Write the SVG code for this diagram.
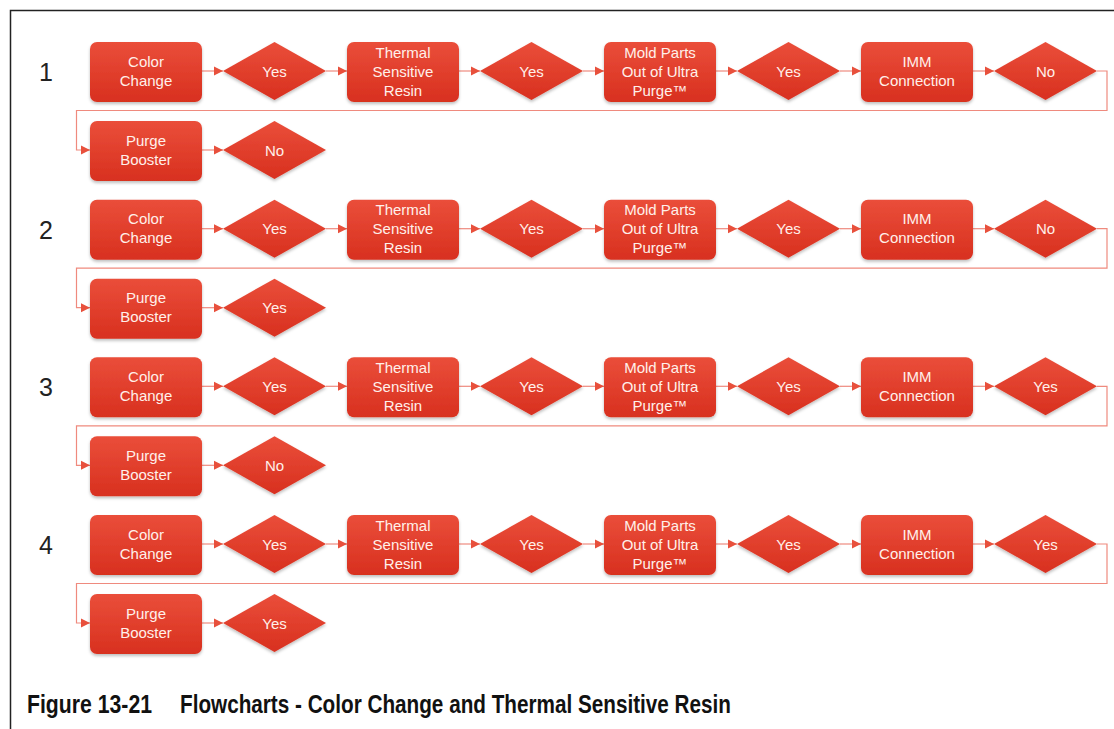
<svg xmlns="http://www.w3.org/2000/svg" width="1114" height="729" viewBox="0 0 1114 729">
<style>
.box{fill:url(#g);}
.dia{fill:url(#g);}
.t{font-family:"Liberation Sans",Arial,sans-serif;font-size:15px;fill:#fff0ea;text-anchor:middle;}
.n{font-family:"Liberation Sans",Arial,sans-serif;font-size:25px;fill:#222;text-anchor:middle;}
.c{fill:none;stroke:#ef8a7e;stroke-width:1.2;}
.cap{font-family:"Liberation Sans Narrow","Liberation Sans",Arial,sans-serif;font-weight:bold;font-size:25px;fill:#111;}
</style>
<defs>
<linearGradient id="g" x1="0" y1="0" x2="0" y2="1">
<stop offset="0" stop-color="#ea4e3a"/>
<stop offset="1" stop-color="#d8301f"/>
</linearGradient>
<filter id="sh" x="-10%" y="-10%" width="125%" height="130%">
<feDropShadow dx="0" dy="2" stdDeviation="1.5" flood-color="#000" flood-opacity="0.25"/>
</filter>
<marker id="ah" markerUnits="userSpaceOnUse" markerWidth="10" markerHeight="10" refX="9" refY="5" orient="auto">
<path d="M0,0.5 L9,5 L0,9.5 Z" fill="#e8503c"/>
</marker>
<g id="row">
<g filter="url(#sh)">
<rect class="box" x="90" y="42" width="112" height="60" rx="7"/>
<polygon class="dia" points="223,71 274.5,42 326,71 274.5,100"/>
<rect class="box" x="347" y="42" width="112" height="60" rx="7"/>
<polygon class="dia" points="480,71 531.5,42 583,71 531.5,100"/>
<rect class="box" x="604" y="42" width="112" height="60" rx="7"/>
<polygon class="dia" points="737,71 788.5,42 840,71 788.5,100"/>
<rect class="box" x="861" y="42" width="112" height="60" rx="7"/>
<polygon class="dia" points="994,71 1045.5,42 1097,71 1045.5,100"/>
<rect class="box" x="90" y="121" width="112" height="60" rx="7"/>
<polygon class="dia" points="223,150 274.5,121 326,150 274.5,179"/>
</g>
</g>
</defs>
<rect width="1114" height="729" fill="#fff"/>
<path d="M10.5,729 L10.5,10.5 L1114,10.5" fill="none" stroke="#222" stroke-width="1.5"/>

<g id="connectors">
<g id="conn-row1">
<line class="c" x1="202" y1="71" x2="223" y2="71" marker-end="url(#ah)"/>
<line class="c" x1="326" y1="71" x2="347" y2="71" marker-end="url(#ah)"/>
<line class="c" x1="459" y1="71" x2="480" y2="71" marker-end="url(#ah)"/>
<line class="c" x1="583" y1="71" x2="604" y2="71" marker-end="url(#ah)"/>
<line class="c" x1="716" y1="71" x2="737" y2="71" marker-end="url(#ah)"/>
<line class="c" x1="840" y1="71" x2="861" y2="71" marker-end="url(#ah)"/>
<line class="c" x1="973" y1="71" x2="994" y2="71" marker-end="url(#ah)"/>
<path class="c" d="M1097,71 H1107 V110.5 H76.5 V150 H90" marker-end="url(#ah)"/>
<line class="c" x1="202" y1="150" x2="223" y2="150" marker-end="url(#ah)"/>
</g>
<g id="conn-row2" transform="translate(0,157.7)">
<line class="c" x1="202" y1="71" x2="223" y2="71" marker-end="url(#ah)"/>
<line class="c" x1="326" y1="71" x2="347" y2="71" marker-end="url(#ah)"/>
<line class="c" x1="459" y1="71" x2="480" y2="71" marker-end="url(#ah)"/>
<line class="c" x1="583" y1="71" x2="604" y2="71" marker-end="url(#ah)"/>
<line class="c" x1="716" y1="71" x2="737" y2="71" marker-end="url(#ah)"/>
<line class="c" x1="840" y1="71" x2="861" y2="71" marker-end="url(#ah)"/>
<line class="c" x1="973" y1="71" x2="994" y2="71" marker-end="url(#ah)"/>
<path class="c" d="M1097,71 H1107 V110.5 H76.5 V150 H90" marker-end="url(#ah)"/>
<line class="c" x1="202" y1="150" x2="223" y2="150" marker-end="url(#ah)"/>
</g>
<g id="conn-row3" transform="translate(0,315.3)">
<line class="c" x1="202" y1="71" x2="223" y2="71" marker-end="url(#ah)"/>
<line class="c" x1="326" y1="71" x2="347" y2="71" marker-end="url(#ah)"/>
<line class="c" x1="459" y1="71" x2="480" y2="71" marker-end="url(#ah)"/>
<line class="c" x1="583" y1="71" x2="604" y2="71" marker-end="url(#ah)"/>
<line class="c" x1="716" y1="71" x2="737" y2="71" marker-end="url(#ah)"/>
<line class="c" x1="840" y1="71" x2="861" y2="71" marker-end="url(#ah)"/>
<line class="c" x1="973" y1="71" x2="994" y2="71" marker-end="url(#ah)"/>
<path class="c" d="M1097,71 H1107 V110.5 H76.5 V150 H90" marker-end="url(#ah)"/>
<line class="c" x1="202" y1="150" x2="223" y2="150" marker-end="url(#ah)"/>
</g>
<g id="conn-row4" transform="translate(0,473)">
<line class="c" x1="202" y1="71" x2="223" y2="71" marker-end="url(#ah)"/>
<line class="c" x1="326" y1="71" x2="347" y2="71" marker-end="url(#ah)"/>
<line class="c" x1="459" y1="71" x2="480" y2="71" marker-end="url(#ah)"/>
<line class="c" x1="583" y1="71" x2="604" y2="71" marker-end="url(#ah)"/>
<line class="c" x1="716" y1="71" x2="737" y2="71" marker-end="url(#ah)"/>
<line class="c" x1="840" y1="71" x2="861" y2="71" marker-end="url(#ah)"/>
<line class="c" x1="973" y1="71" x2="994" y2="71" marker-end="url(#ah)"/>
<path class="c" d="M1097,71 H1107 V110.5 H76.5 V150 H90" marker-end="url(#ah)"/>
<line class="c" x1="202" y1="150" x2="223" y2="150" marker-end="url(#ah)"/>
</g>
</g>

<g id="flow1">
<use href="#row"/>
<text class="n" x="46" y="81">1</text>
<g id="f1-color"><text class="t" x="146" y="66.5">Color</text><text class="t" x="146" y="85.5">Change</text></g>
<g id="f1-d1"><text class="t" x="274.5" y="76.5">Yes</text></g>
<g id="f1-thermal"><text class="t" x="403" y="57.5">Thermal</text><text class="t" x="403" y="76.5">Sensitive</text><text class="t" x="403" y="95.5">Resin</text></g>
<g id="f1-d2"><text class="t" x="531.5" y="76.5">Yes</text></g>
<g id="f1-mold"><text class="t" x="660" y="57.5">Mold Parts</text><text class="t" x="660" y="76.5">Out of Ultra</text><text class="t" x="660" y="95.5">Purge™</text></g>
<g id="f1-d3"><text class="t" x="788.5" y="76.5">Yes</text></g>
<g id="f1-imm"><text class="t" x="917" y="66.5">IMM</text><text class="t" x="917" y="85.5">Connection</text></g>
<g id="f1-d4"><text class="t" x="1045.5" y="76.5">No</text></g>
<g id="f1-purge"><text class="t" x="146" y="145.5">Purge</text><text class="t" x="146" y="164.5">Booster</text></g>
<g id="f1-d5"><text class="t" x="274.5" y="155.5">No</text></g>
</g>

<g id="flow2" transform="translate(0,157.7)">
<use href="#row"/>
<text class="n" x="46" y="81">2</text>
<g id="f2-color"><text class="t" x="146" y="66.5">Color</text><text class="t" x="146" y="85.5">Change</text></g>
<g id="f2-d1"><text class="t" x="274.5" y="76.5">Yes</text></g>
<g id="f2-thermal"><text class="t" x="403" y="57.5">Thermal</text><text class="t" x="403" y="76.5">Sensitive</text><text class="t" x="403" y="95.5">Resin</text></g>
<g id="f2-d2"><text class="t" x="531.5" y="76.5">Yes</text></g>
<g id="f2-mold"><text class="t" x="660" y="57.5">Mold Parts</text><text class="t" x="660" y="76.5">Out of Ultra</text><text class="t" x="660" y="95.5">Purge™</text></g>
<g id="f2-d3"><text class="t" x="788.5" y="76.5">Yes</text></g>
<g id="f2-imm"><text class="t" x="917" y="66.5">IMM</text><text class="t" x="917" y="85.5">Connection</text></g>
<g id="f2-d4"><text class="t" x="1045.5" y="76.5">No</text></g>
<g id="f2-purge"><text class="t" x="146" y="145.5">Purge</text><text class="t" x="146" y="164.5">Booster</text></g>
<g id="f2-d5"><text class="t" x="274.5" y="155.5">Yes</text></g>
</g>

<g id="flow3" transform="translate(0,315.3)">
<use href="#row"/>
<text class="n" x="46" y="81">3</text>
<g id="f3-color"><text class="t" x="146" y="66.5">Color</text><text class="t" x="146" y="85.5">Change</text></g>
<g id="f3-d1"><text class="t" x="274.5" y="76.5">Yes</text></g>
<g id="f3-thermal"><text class="t" x="403" y="57.5">Thermal</text><text class="t" x="403" y="76.5">Sensitive</text><text class="t" x="403" y="95.5">Resin</text></g>
<g id="f3-d2"><text class="t" x="531.5" y="76.5">Yes</text></g>
<g id="f3-mold"><text class="t" x="660" y="57.5">Mold Parts</text><text class="t" x="660" y="76.5">Out of Ultra</text><text class="t" x="660" y="95.5">Purge™</text></g>
<g id="f3-d3"><text class="t" x="788.5" y="76.5">Yes</text></g>
<g id="f3-imm"><text class="t" x="917" y="66.5">IMM</text><text class="t" x="917" y="85.5">Connection</text></g>
<g id="f3-d4"><text class="t" x="1045.5" y="76.5">Yes</text></g>
<g id="f3-purge"><text class="t" x="146" y="145.5">Purge</text><text class="t" x="146" y="164.5">Booster</text></g>
<g id="f3-d5"><text class="t" x="274.5" y="155.5">No</text></g>
</g>

<g id="flow4" transform="translate(0,473)">
<use href="#row"/>
<text class="n" x="46" y="81">4</text>
<g id="f4-color"><text class="t" x="146" y="66.5">Color</text><text class="t" x="146" y="85.5">Change</text></g>
<g id="f4-d1"><text class="t" x="274.5" y="76.5">Yes</text></g>
<g id="f4-thermal"><text class="t" x="403" y="57.5">Thermal</text><text class="t" x="403" y="76.5">Sensitive</text><text class="t" x="403" y="95.5">Resin</text></g>
<g id="f4-d2"><text class="t" x="531.5" y="76.5">Yes</text></g>
<g id="f4-mold"><text class="t" x="660" y="57.5">Mold Parts</text><text class="t" x="660" y="76.5">Out of Ultra</text><text class="t" x="660" y="95.5">Purge™</text></g>
<g id="f4-d3"><text class="t" x="788.5" y="76.5">Yes</text></g>
<g id="f4-imm"><text class="t" x="917" y="66.5">IMM</text><text class="t" x="917" y="85.5">Connection</text></g>
<g id="f4-d4"><text class="t" x="1045.5" y="76.5">Yes</text></g>
<g id="f4-purge"><text class="t" x="146" y="145.5">Purge</text><text class="t" x="146" y="164.5">Booster</text></g>
<g id="f4-d5"><text class="t" x="274.5" y="155.5">Yes</text></g>
</g>

<g id="caption">
<text class="cap" x="27" y="713" textLength="125" lengthAdjust="spacingAndGlyphs">Figure 13-21</text>
<text class="cap" x="180" y="713" textLength="551" lengthAdjust="spacingAndGlyphs">Flowcharts - Color Change and Thermal Sensitive Resin</text>
</g>
</svg>
